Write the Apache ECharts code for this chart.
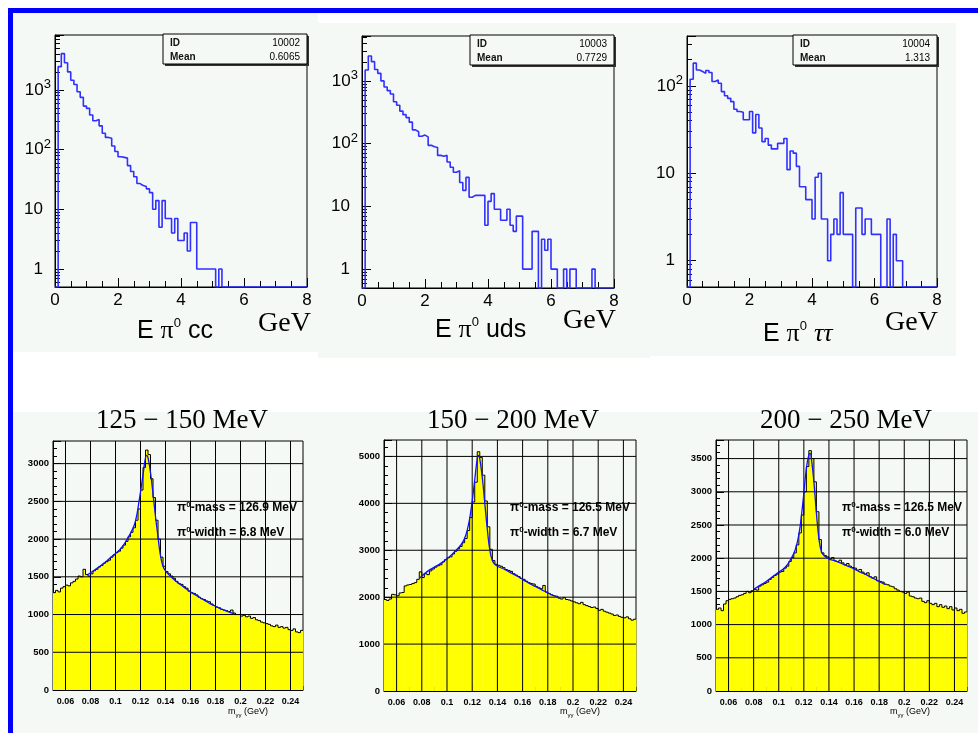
<!DOCTYPE html>
<html><head><meta charset="utf-8">
<script src="https://cdn.jsdelivr.net/npm/echarts@6/dist/echarts.min.js"></script>
<style>html,body{margin:0;padding:0;background:#fff;}#c{width:978px;height:733px;}</style>
</head><body><div id="c"></div>
<script>
// ---------------- data ----------------
const energyBinWidth = 0.1;           // GeV, bins start at 0
const energyTickLabels = [0, 2, 4, 6, 8];
const ccCounts = [
  0, 2450, 4050, 2850, 2000, 1450, 1230, 930, 750, 535,
  490, 380, 305, 320, 250, 188, 160, 155, 115, 93,
  76, 74, 72, 54, 43, 35, 27, 25, 24, 22,
  19, 10, 14, 5, 14, 7, 7, 4, 7, 3,
  3, 4, 2, 6, 6, 1, 1, 1, 1, 1,
  1, 0, 1, 0, 0, 0, 0, 0, 0, 0,
  0, 0, 0, 0, 0, 0, 0, 0, 0, 0,
  0, 0, 0, 0, 0, 0, 0, 0, 0, 0];
const udsCounts = [
  0, 1490, 2500, 2030, 1520, 1320, 1000, 800, 700, 620,
  465, 410, 330, 290, 260, 220, 166, 155, 131, 137,
  128, 94, 89, 87, 65, 63, 65, 51, 42, 35,
  37, 24, 18, 29, 14, 15, 15, 15, 15, 5,
  12, 16, 9, 9, 6, 6, 9, 5, 4, 7,
  7, 1, 1, 1, 4, 4, 0, 3, 2, 3,
  1, 1, 0, 0, 1, 0, 1, 1, 0, 0,
  0, 0, 0, 1, 0, 0, 0, 0, 0, 0];
const tauCounts = [
  0, 119, 182, 152, 146, 139, 150, 142, 112, 117,
  107, 86, 77, 72, 66, 54, 51, 50, 41, 41,
  51, 29, 47, 33, 23, 25, 21, 19, 19, 22,
  22, 25, 11, 18, 17, 12, 7, 7, 5, 5,
  3, 9, 10, 3, 3, 1, 2, 3, 2, 6,
  2, 2, 2, 0, 4, 4, 2, 3, 3, 2,
  2, 2, 0, 0, 3, 0, 2, 1, 1, 0,
  0, 0, 0, 0, 0, 0, 0, 0, 0, 0];
const statIds = ['10002', '10003', '10004'];
const statMeans = ['0.6065', '0.7729', '1.313'];
const energyTitles = ['cc', 'uds', 'ττ'];

const massBinStart = 0.05;   // GeV
const massBinWidth = 0.002;  // GeV
const massTickLabels = [0.06, 0.08, 0.1, 0.12, 0.14, 0.16, 0.18, 0.2, 0.22, 0.24];
const mass125 = [
  1290,1320,1300,1350,1370,1390,1380,1420,1440,1470,
  1510,1500,1600,1530,1510,1540,1580,1600,1630,1650,
  1680,1700,1720,1760,1790,1820,1840,1880,1920,1970,
  2030,2090,2150,2250,2400,2650,2950,3180,3120,2800,
  2550,2250,2000,1760,1640,1570,1540,1510,1480,1440,
  1410,1400,1370,1350,1310,1290,1280,1260,1230,1210,
  1200,1180,1170,1140,1120,1100,1090,1070,1060,1050,
  1040,1060,1020,1000,1000,980,990,970,980,950,
  960,930,920,900,890,880,870,850,840,860,
  830,840,820,830,800,790,810,770,760,790];
const mass150 = [
  1950,1930,1960,2060,2050,2030,2090,2100,2240,2260,
  2270,2290,2310,2380,2540,2420,2500,2480,2560,2600,
  2640,2670,2690,2750,2800,2840,2860,2920,2980,3030,
  3080,3160,3250,3420,3700,4030,4450,5100,4980,4600,
  4050,3500,3020,2780,2700,2680,2660,2630,2590,2570,
  2550,2500,2470,2440,2400,2380,2340,2310,2290,2280,
  2230,2200,2180,2250,2110,2080,2050,2030,2020,1980,
  1960,1990,1950,1940,1920,1900,1880,1860,1890,1840,
  1820,1800,1780,1790,1760,1720,1740,1700,1680,1660,
  1640,1610,1620,1590,1570,1560,1580,1540,1510,1530];
const mass200 = [
  1230,1250,1210,1310,1360,1380,1390,1400,1420,1440,
  1450,1470,1500,1480,1510,1530,1520,1580,1600,1620,
  1640,1680,1710,1740,1760,1790,1800,1850,1880,1950,
  2010,2080,2200,2380,2650,3000,3380,3620,3500,3150,
  2700,2280,2080,2040,2020,1990,2010,1960,1950,1970,
  1930,1900,1920,1880,1860,1850,1820,1830,1790,1760,
  1780,1720,1700,1720,1660,1650,1640,1610,1600,1580,
  1570,1540,1520,1500,1490,1470,1490,1430,1420,1400,
  1390,1400,1350,1330,1360,1320,1300,1320,1270,1300,
  1260,1280,1240,1270,1220,1250,1210,1230,1170,1190];

const fit125X = [0.078,0.085,0.09,0.095,0.1,0.105,0.11,0.113,0.116,0.119,0.122,0.124,0.125,0.126,0.128,0.13,0.132,0.134,0.136,0.138,0.14,0.145,0.15,0.155,0.16,0.165,0.17,0.175,0.18,0.185,0.19,0.195];
const fit125Y = [1530,1610,1670,1740,1810,1890,2020,2110,2240,2520,2850,3080,3110,3080,2880,2600,2300,2030,1780,1640,1580,1490,1420,1360,1300,1250,1200,1150,1110,1070,1040,1010];
const fit150X = [0.078,0.085,0.09,0.095,0.1,0.105,0.11,0.113,0.116,0.119,0.122,0.124,0.125,0.126,0.128,0.13,0.132,0.134,0.136,0.138,0.14,0.145,0.15,0.155,0.16,0.165,0.17,0.175,0.18,0.185,0.19];
const fit150Y = [2400,2560,2640,2720,2820,2940,3080,3200,3420,3850,4500,4950,5020,4950,4550,4000,3450,3000,2780,2700,2660,2600,2530,2460,2380,2300,2230,2160,2090,2030,1980];
const fit200X = [0.08,0.085,0.09,0.095,0.1,0.105,0.11,0.113,0.116,0.119,0.122,0.124,0.125,0.126,0.128,0.13,0.132,0.134,0.136,0.14,0.145,0.15,0.155,0.16,0.165,0.17,0.175,0.18,0.185];
const fit200Y = [1530,1590,1650,1720,1790,1860,2000,2120,2350,2800,3350,3560,3580,3500,3150,2680,2300,2100,2040,1990,1960,1920,1880,1840,1790,1750,1700,1650,1600];

const massTitles = ['125 − 150 MeV', '150 − 200 MeV', '200 − 250 MeV'];
const fitMass = ['126.9', '126.5', '126.5'];
const fitWidth = ['6.8', '6.7', '6.0'];

// ---------------- layout ----------------
const SANS = 'Liberation Sans, Arial, Helvetica, sans-serif';
const SERIF = 'Liberation Serif, Times New Roman, serif';
const BG = '#f5f9f5';
const topPanels = [
  { left: 55, top: 35, w: 252, h: 252, ymin: 0.5, ymax: 8300 },
  { left: 362, top: 36, w: 252, h: 252, ymin: 0.5, ymax: 5200 },
  { left: 687, top: 36, w: 250, h: 251, ymin: 0.5, ymax: 372 }
];
const botPanels = [
  { left: 53, top: 441, w: 250, h: 249, ymax: 3300, step: 500 },
  { left: 384, top: 440, w: 252, h: 251, ymax: 5350, step: 1000 },
  { left: 716, top: 440, w: 251, h: 251, ymax: 3780, step: 500 }
];
const topCounts = [ccCounts, udsCounts, tauCounts];
const massData = [mass125, mass150, mass200];
const fitX = [fit125X, fit150X, fit200X];
const fitY = [fit125Y, fit150Y, fit200Y];

function energyHist(counts, floor) {
  const pts = counts.map((c, i) => [+(i * energyBinWidth).toFixed(3), c > 0 ? c : floor]);
  pts.push([+(counts.length * energyBinWidth).toFixed(3), counts[counts.length - 1] > 0 ? counts[counts.length - 1] : floor]);
  return pts;
}
function logMinor(min, max) {
  const out = [];
  for (let e = -1; e <= 4; e++) for (let m = 2; m <= 9; m++) {
    const v = +(m * Math.pow(10, e)).toPrecision(3);
    if (v > min * 1.0001 && v < max) out.push(v);
  }
  return out;
}
const massMinorTicks = [];
for (let k = 0; k <= 40; k++) massMinorTicks.push(+(0.05 + k * 0.005).toFixed(3));

const grid = [], xAxis = [], yAxis = [], series = [], graphic = [];

// backgrounds & frame
graphic.push(
  { type: 'rect', z: -100, shape: { x: 13, y: 13, width: 305, height: 339 }, style: { fill: BG } },
  { type: 'rect', z: -100, shape: { x: 318, y: 23, width: 332, height: 335 }, style: { fill: BG } },
  { type: 'rect', z: -100, shape: { x: 650, y: 23, width: 306, height: 333 }, style: { fill: BG } },
  { type: 'rect', z: -100, shape: { x: 13, y: 412, width: 965, height: 321 }, style: { fill: BG } },
  { type: 'rect', z: 100, shape: { x: 8, y: 8, width: 970, height: 5 }, style: { fill: '#0000ff' } },
  { type: 'rect', z: 100, shape: { x: 8, y: 8, width: 5, height: 725 }, style: { fill: '#0000ff' } }
);

const logLabelRich = {
  n: { fontSize: 17, fontFamily: SANS, color: '#000', lineHeight: 24 },
  s: { fontSize: 13, fontFamily: SANS, color: '#000', lineHeight: 13, verticalAlign: 'top' },
  p: { fontSize: 17, fontFamily: SANS, color: '#000', lineHeight: 24, padding: [0, 8, 0, 0] }
};
function logFormatter(v) {
  const l = Math.log10(v), r = Math.round(l);
  if (Math.abs(l - r) > 1e-6 || r < 0) return '';
  if (r === 0) return '{p|1}';
  if (r === 1) return '{p|10}';
  return '{n|10}{s|' + r + '}';
}

const energyAxisTitles = [
  { x: 137, y: 331, gx: 258, gy: 324 },
  { x: 435, y: 330, gx: 563, gy: 321 },
  { x: 763, y: 334, gx: 885, gy: 323 }
];

topPanels.forEach((p, i) => {
  grid.push({ left: p.left, top: p.top, width: p.w, height: p.h, show: true, borderColor: '#000', borderWidth: 1, backgroundColor: 'transparent' });
  xAxis.push({
    type: 'value', gridIndex: i, min: 0, max: 8, interval: 2, position: 'bottom',
    axisLine: { show: true, lineStyle: { color: '#000', width: 1 } },
    axisTick: { show: true, inside: true, length: 9, lineStyle: { color: '#000' } },
    minorTick: { show: true, splitNumber: 4, length: 6, lineStyle: { color: '#000' } },
    splitLine: { show: false },
    axisLabel: { color: '#000', fontSize: 17, fontFamily: SANS, margin: 5,
      customValues: energyTickLabels }
  });
  yAxis.push({
    type: 'log', logBase: 10, gridIndex: i, min: p.ymin, max: p.ymax, position: 'left',
    axisLine: { show: true, lineStyle: { color: '#000', width: 1 } },
    axisTick: { show: true, inside: true, length: 9, lineStyle: { color: '#000' } },
    splitLine: { show: false },
    axisLabel: { formatter: logFormatter, rich: logLabelRich, margin: 4 }
  });
  series.push({
    type: 'line', xAxisIndex: i, yAxisIndex: i, step: 'end', showSymbol: false, symbol: 'none',
    data: energyHist(topCounts[i], p.ymin), z: 2,
    lineStyle: { color: '#3030ff', width: 1.6 }, animation: false
  });
  // stats box
  const bx = p.left + p.w - 144, by = p.top - 1;
  graphic.push(
    { type: 'rect', z: 50, shape: { x: bx + 2, y: by + 2, width: 144, height: 30 }, style: { fill: '#333' } },
    { type: 'rect', z: 51, shape: { x: bx, y: by, width: 144, height: 30 }, style: { fill: BG, stroke: '#000', lineWidth: 1 } },
    { type: 'text', z: 52, x: bx + 7, y: by + 9, style: { text: 'ID', font: 'bold 10px ' + SANS, fill: '#111', textVerticalAlign: 'middle' } },
    { type: 'text', z: 52, x: bx + 137, y: by + 9, style: { text: statIds[i], font: '10px ' + SANS, fill: '#000', textAlign: 'right', textVerticalAlign: 'middle' } },
    { type: 'text', z: 52, x: bx + 7, y: by + 23, style: { text: 'Mean', font: 'bold 10px ' + SANS, fill: '#111', textVerticalAlign: 'middle' } },
    { type: 'text', z: 52, x: bx + 137, y: by + 23, style: { text: statMeans[i], font: '10px ' + SANS, fill: '#000', textAlign: 'right', textVerticalAlign: 'middle' } }
  );
  const t = energyAxisTitles[i];
  const tail = i === 2 ? '{t|' + energyTitles[i] + '}' : '{a|' + energyTitles[i] + '}';
  graphic.push(
    { type: 'text', z: 52, x: t.x, y: t.y, style: {
      text: '{a|E }{p|π}{s|0}{a| }' + tail, textVerticalAlign: 'middle',
      rich: {
        a: { fontSize: 25, fontFamily: SANS, fill: '#000', lineHeight: 28 },
        p: { fontSize: 26, fontFamily: SERIF, fill: '#000', lineHeight: 28 },
        s: { fontSize: 13, fontFamily: SANS, fill: '#000', lineHeight: 13, verticalAlign: 'top' },
        t: { fontSize: 26, fontFamily: SERIF, fontStyle: 'italic', fill: '#000', lineHeight: 28 }
      } } },
    { type: 'text', z: 52, x: t.gx, y: t.gy, style: { text: 'GeV', font: '28px ' + SERIF, fill: '#000', textVerticalAlign: 'middle' } }
  );
});

// minor log tick overlays
topPanels.forEach((p, i) => {
  yAxis.push({
    type: 'log', logBase: 10, gridIndex: i, min: p.ymin, max: p.ymax, position: 'left',
    axisLine: { show: false }, splitLine: { show: false }, axisLabel: { show: false },
    axisTick: { show: true, inside: true, length: 5, lineStyle: { color: '#000' }, customValues: logMinor(p.ymin, p.ymax) }
  });
});

const fitTextPos = [{ x: 177, y: 508 }, { x: 510, y: 508 }, { x: 842, y: 508 }];
const titleX = [182, 513, 846];
const mggPos = [{ x: 228, y: 712 }, { x: 560, y: 712 }, { x: 890, y: 712 }];

botPanels.forEach((p, j) => {
  const gi = 3 + j;
  const xi = 3 + j, yi = 6 + j;
  grid.push({ left: p.left, top: p.top, width: p.w, height: p.h, show: true, borderColor: '#000', borderWidth: 1, backgroundColor: 'transparent' });
  xAxis.push({
    type: 'value', gridIndex: gi, min: 0.05, max: 0.25, position: 'bottom',
    axisLine: { show: true, lineStyle: { color: '#000', width: 1 } },
    axisTick: { show: true, inside: true, length: 8, lineStyle: { color: '#000' }, customValues: massTickLabels },
    splitLine: { show: false },
    axisLabel: { color: '#000', fontSize: 9, fontWeight: 'bold', fontFamily: SANS, margin: 7, customValues: massTickLabels }
  });
  yAxis.push({
    type: 'value', gridIndex: gi, min: 0, max: p.ymax, interval: p.step, position: 'left',
    axisLine: { show: true, lineStyle: { color: '#000', width: 1 } },
    axisTick: { show: true, inside: true, length: 8, lineStyle: { color: '#000' } },
    minorTick: { show: true, splitNumber: 5, length: 4, lineStyle: { color: '#000' } },
    splitLine: { show: false },
    axisLabel: { color: '#000', fontSize: 9.5, fontWeight: 'bold', fontFamily: SANS, margin: 4, showMaxLabel: false,
      formatter: v => String(v) }
  });
  // histogram bins drawn as filled rectangles + outline, through the axes' scales
  const vals = massData[j];
  const gridV = massTickLabels.concat([0.25]);
  const gridH = [];
  for (let v = p.step; v < p.ymax; v += p.step) gridH.push(v);
  series.push({
    type: 'custom', xAxisIndex: xi, yAxisIndex: yi, silent: true, animation: false, z: 2,
    data: vals.map((v, i) => [+(massBinStart + i * massBinWidth).toFixed(4), v, i]),
    encode: { x: 0, y: 1 },
    renderItem: function (params, api) {
      const i = api.value(2);
      const x0 = massBinStart + i * massBinWidth, x1 = x0 + massBinWidth;
      const pTL = api.coord([x0, api.value(1)]);
      const pBR = api.coord([x1, 0]);
      const children = [{ type: 'rect', shape: { x: pTL[0], y: pTL[1], width: pBR[0] - pTL[0] + 0.4, height: pBR[1] - pTL[1] },
        style: { fill: '#ffff00' } }];
      // outline: top of bin and vertical joint to next bin
      const nextV = i + 1 < vals.length ? vals[i + 1] : null;
      children.push({ type: 'line', shape: { x1: pTL[0], y1: pTL[1], x2: pBR[0], y2: pTL[1] }, style: { stroke: '#000', lineWidth: 1 }, z2: 5 });
      if (nextV !== null) {
        const pN = api.coord([x1, nextV]);
        children.push({ type: 'line', shape: { x1: pBR[0], y1: pTL[1], x2: pBR[0], y2: pN[1] }, style: { stroke: '#000', lineWidth: 1 }, z2: 5 });
      }
      // grid lines crossing this bin (ROOT draws its grid on top of the fill)
      gridV.forEach(gx => {
        if (gx >= x0 - 1e-9 && gx < x1 - 1e-9) {
          const a = api.coord([gx, 0]), b = api.coord([gx, p.ymax]);
          children.push({ type: 'line', shape: { x1: a[0], y1: a[1], x2: b[0], y2: b[1] }, style: { stroke: '#000', lineWidth: 1 }, z2: 10 });
        }
      });
      if (i === 0) {
        gridH.forEach(gy => {
          const a = api.coord([0.05, gy]), b = api.coord([0.25, gy]);
          children.push({ type: 'line', shape: { x1: a[0], y1: a[1], x2: b[0], y2: b[1] }, style: { stroke: '#000', lineWidth: 1 }, z2: 10 });
        });
      }
      return { type: 'group', children: children };
    }
  });
  series.push({
    type: 'line', xAxisIndex: xi, yAxisIndex: yi, smooth: true, showSymbol: false, symbol: 'none',
    data: fitX[j].map((x, k) => [x, fitY[j][k]]), z: 5,
    lineStyle: { color: '#1010ff', width: 1.3 }, animation: false
  });
  graphic.push(
    { type: 'text', z: 60, x: titleX[j], y: 421, style: { text: massTitles[j], font: '27px ' + SERIF, fill: '#000', textAlign: 'center', textVerticalAlign: 'middle' } },
    { type: 'text', z: 60, x: fitTextPos[j].x, y: fitTextPos[j].y, style: {
      text: '{b|π}{s|0}{b|-mass = ' + fitMass[j] + ' MeV}', textVerticalAlign: 'middle',
      rich: { b: { fontSize: 12, fontWeight: 'bold', fontFamily: SANS, fill: '#000', lineHeight: 14 },
              s: { fontSize: 8, fontWeight: 'bold', fontFamily: SANS, fill: '#000', lineHeight: 8, verticalAlign: 'top' } } } },
    { type: 'text', z: 60, x: fitTextPos[j].x, y: fitTextPos[j].y + 25, style: {
      text: '{b|π}{s|0}{b|-width = ' + fitWidth[j] + ' MeV}', textVerticalAlign: 'middle',
      rich: { b: { fontSize: 12, fontWeight: 'bold', fontFamily: SANS, fill: '#000', lineHeight: 14 },
              s: { fontSize: 8, fontWeight: 'bold', fontFamily: SANS, fill: '#000', lineHeight: 8, verticalAlign: 'top' } } } },
    { type: 'text', z: 60, x: mggPos[j].x, y: mggPos[j].y, style: {
      text: '{m|m}{g|γγ}{m| (GeV)}', textVerticalAlign: 'middle',
      rich: { m: { fontSize: 9, fontFamily: SANS, fill: '#000', lineHeight: 12 },
              g: { fontSize: 6, fontFamily: SANS, fill: '#000', lineHeight: 6, verticalAlign: 'bottom' } } } }
  );
});

// minor x tick overlays for mass panels
botPanels.forEach((p, j) => {
  xAxis.push({
    type: 'value', gridIndex: 3 + j, min: 0.05, max: 0.25, position: 'bottom',
    axisLine: { show: false }, splitLine: { show: false }, axisLabel: { show: false },
    axisTick: { show: true, inside: true, length: 4, lineStyle: { color: '#000' }, customValues: massMinorTicks }
  });
});

const chart = echarts.init(document.getElementById('c'), null, { renderer: 'canvas' });
chart.setOption({ animation: false, backgroundColor: '#ffffff', grid, xAxis, yAxis, series, graphic });
</script></body></html>
